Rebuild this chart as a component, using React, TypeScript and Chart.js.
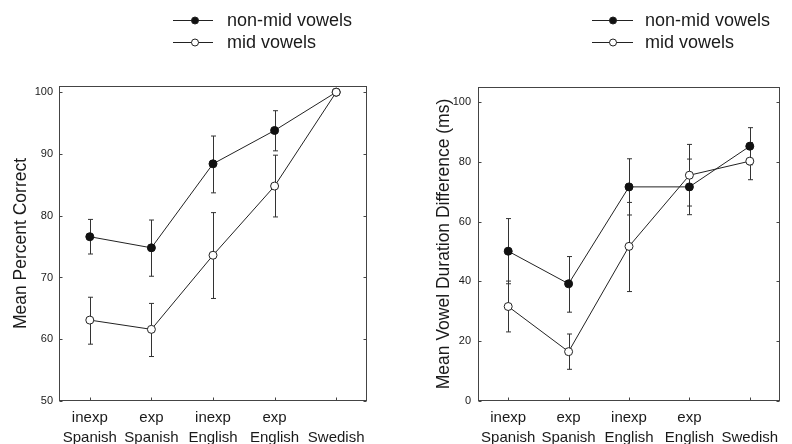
import React, { useEffect, useRef } from "react";
import { Chart, registerables } from "chart.js";
Chart.register(...registerables);

// ---------- data ----------
const categories = [
  ["inexp", "Spanish"],
  ["exp", "Spanish"],
  ["inexp", "English"],
  ["exp", "English"],
  ["", "Swedish"],
];
const seriesNames = ["non-mid vowels", "mid vowels"];

// Left panel: Mean Percent Correct
const accTicks = [50, 60, 70, 80, 90, 100];
const nonMidAcc = [76.6, 74.8, 88.4, 93.8, 100];
const nonMidAccLo = [73.8, 70.2, 83.7, 90.5, null];
const nonMidAccHi = [79.4, 79.3, 92.9, 97.0, null];
const midAcc = [63.1, 61.6, 73.6, 84.8, 100];
const midAccLo = [59.2, 57.2, 66.6, 79.8, null];
const midAccHi = [66.8, 65.8, 80.5, 89.8, null];

// Right panel: Mean Vowel Duration Difference (ms)
const durTicks = [0, 20, 40, 60, 80, 100];
const nonMidDur = [50.1, 39.2, 71.6, 71.6, 85.2];
const nonMidDurLo = [39.2, 29.7, 62.2, 62.3, 79.0];
const nonMidDurHi = [61.0, 48.3, 81.0, 80.9, 91.4];
const midDur = [31.6, 16.5, 51.7, 75.5, 80.2];
const midDurLo = [23.1, 10.6, 36.6, 65.2, 74.0];
const midDurHi = [40.1, 22.4, 66.4, 85.8, 86.4];

const FONT = "'Liberation Sans', Arial, Helvetica, sans-serif";
const INK = "#1a1a1a";

type Cfg = {
  title: string;
  ticks: number[];
  min: number;
  max: number;
  nonMid: number[];
  mid: number[];
  errors: { lo: (number | null)[]; hi: (number | null)[] }[];
  yWidth: number;
  padRight: number;
  padTop: number;
  titlePad: number;
  tickPad: number;
  legend: { x0: number; x1: number; xm: number; xt: number; ys: number[] };
};

function makePlugin(cfg: Cfg) {
  return {
    id: "decor",
    beforeDatasetsDraw(chart: any) {
      const { ctx } = chart;
      const xs = chart.scales.x;
      const ys = chart.scales.y;
      ctx.save();
      ctx.strokeStyle = "#333";
      ctx.lineWidth = 1;
      cfg.errors.forEach(({ lo, hi }) => {
        lo.forEach((l, i) => {
          const h = hi[i];
          if (l == null || h == null) return;
          const px = Math.round(xs.getPixelForValue(i)) + 0.5;
          const y1 = ys.getPixelForValue(l);
          const y2 = ys.getPixelForValue(h);
          ctx.beginPath();
          ctx.moveTo(px, y1);
          ctx.lineTo(px, y2);
          ctx.moveTo(px - 2.5, y1);
          ctx.lineTo(px + 2.5, y1);
          ctx.moveTo(px - 2.5, y2);
          ctx.lineTo(px + 2.5, y2);
          ctx.stroke();
        });
      });
      ctx.restore();
    },
    afterDraw(chart: any) {
      const { ctx, chartArea } = chart;
      const xs = chart.scales.x;
      const ys = chart.scales.y;
      const L = Math.round(chartArea.left) + 0.5;
      const R = Math.round(chartArea.right) - 0.5;
      const T = Math.round(chartArea.top) + 0.5;
      const B = Math.round(chartArea.bottom) - 0.5;
      ctx.save();
      ctx.strokeStyle = "#444";
      ctx.lineWidth = 1;
      ctx.strokeRect(L, T, R - L, B - T);
      ctx.beginPath();
      cfg.ticks.forEach((v) => {
        const py = Math.round(ys.getPixelForValue(v)) + 0.5;
        ctx.moveTo(L, py);
        ctx.lineTo(L + 3, py);
        ctx.moveTo(R, py);
        ctx.lineTo(R - 3, py);
      });
      categories.forEach((_, i) => {
        const px = Math.round(xs.getPixelForValue(i)) + 0.5;
        ctx.moveTo(px, B);
        ctx.lineTo(px, B - 3);
      });
      ctx.stroke();

      // legend
      const lg = cfg.legend;
      ctx.font = `18px ${FONT}`;
      ctx.textBaseline = "middle";
      ctx.textAlign = "left";
      seriesNames.forEach((name, i) => {
        const y = lg.ys[i] + 0.5;
        ctx.strokeStyle = "#222";
        ctx.beginPath();
        ctx.moveTo(lg.x0, y);
        ctx.lineTo(lg.x1, y);
        ctx.stroke();
        ctx.beginPath();
        ctx.arc(lg.xm, y, 3.5, 0, Math.PI * 2);
        ctx.fillStyle = i === 0 ? "#111" : "#fff";
        ctx.fill();
        ctx.stroke();
        ctx.fillStyle = INK;
        ctx.fillText(name, lg.xt, lg.ys[i] + 1);
      });
      ctx.restore();
    },
  };
}

function Panel({ cfg, left }: { cfg: Cfg; left: number }) {
  const ref = useRef<HTMLCanvasElement | null>(null);
  useEffect(() => {
    if (!ref.current) return;
    const chart = new Chart(ref.current, {
      type: "line",
      data: {
        labels: categories,
        datasets: [
          {
            label: seriesNames[1],
            data: cfg.mid,
            borderColor: "#222",
            borderWidth: 1,
            pointRadius: 4,
            pointBackgroundColor: "#fff",
            pointBorderColor: "#222",
            pointBorderWidth: 1,
            tension: 0,
          },
          {
            label: seriesNames[0],
            data: cfg.nonMid,
            borderColor: "#222",
            borderWidth: 1,
            pointRadius: 4,
            pointBackgroundColor: "#111",
            pointBorderColor: "#111",
            pointBorderWidth: 1,
            tension: 0,
          },
        ],
      },
      options: {
        responsive: false,
        animation: false,
        layout: { padding: { left: 0, right: cfg.padRight, top: cfg.padTop, bottom: 0 } },
        plugins: { legend: { display: false }, tooltip: { enabled: false } },
        scales: {
          x: {
            type: "category",
            offset: true,
            grid: { display: false, drawTicks: false, tickLength: 0 },
            border: { display: false },
            ticks: {
              color: INK,
              padding: 7,
              maxRotation: 0,
              autoSkip: false,
              font: { family: FONT, size: 15, lineHeight: "20px" },
            },
            afterFit: (s: any) => {
              s.height = 43;
            },
          },
          y: {
            type: "linear",
            min: cfg.min,
            max: cfg.max,
            grid: { display: false, drawTicks: false, tickLength: 0 },
            border: { display: false },
            afterBuildTicks: (s: any) => {
              s.ticks = cfg.ticks.map((v) => ({ value: v }));
            },
            ticks: {
              color: INK,
              padding: cfg.tickPad,
              font: { family: FONT, size: 11 },
            },
            title: {
              display: true,
              text: cfg.title,
              color: INK,
              padding: { top: cfg.titlePad, bottom: 0 },
              font: { family: FONT, size: 17.5, lineHeight: "21px" },
            },
            afterFit: (s: any) => {
              s.width = cfg.yWidth;
            },
          },
        },
      },
      plugins: [makePlugin(cfg)],
    } as any);
    return () => chart.destroy();
  }, [cfg]);
  return (
    <canvas
      ref={ref}
      width={396}
      height={444}
      style={{ position: "absolute", left, top: 0, width: 396, height: 444, display: "block" }}
    />
  );
}

const leftCfg: Cfg = {
  title: "Mean Percent Correct",
  ticks: accTicks,
  min: 50,
  max: 101,
  nonMid: nonMidAcc,
  mid: midAcc,
  errors: [
    { lo: nonMidAccLo, hi: nonMidAccHi },
    { lo: midAccLo, hi: midAccHi },
  ],
  yWidth: 59,
  padRight: 29,
  padTop: 86,
  titlePad: 11,
  tickPad: 6,
  legend: { x0: 173, x1: 213, xm: 195, xt: 227, ys: [20, 42] },
};

const rightCfg: Cfg = {
  title: "Mean Vowel Duration Difference (ms)",
  ticks: durTicks,
  min: 0,
  max: 105,
  nonMid: nonMidDur,
  mid: midDur,
  errors: [
    { lo: nonMidDurLo, hi: nonMidDurHi },
    { lo: midDurLo, hi: midDurHi },
  ],
  yWidth: 82,
  padRight: 12,
  padTop: 87,
  titlePad: 38,
  tickPad: 7,
  legend: { x0: 196, x1: 237, xm: 217, xt: 249, ys: [20, 42] },
};

export default function App() {
  return (
    <div style={{ position: "fixed", left: 0, top: 0, width: 792, height: 444, background: "#fff" }}>
      <Panel cfg={leftCfg} left={0} />
      <Panel cfg={rightCfg} left={396} />
    </div>
  );
}
